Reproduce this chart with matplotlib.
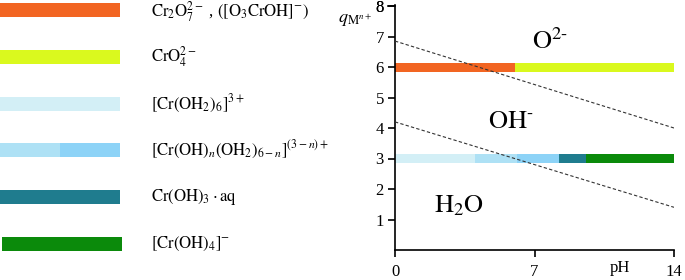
import matplotlib
matplotlib.use("Agg")
import matplotlib.pyplot as plt
from matplotlib.lines import Line2D
from matplotlib.patches import Rectangle

plt.rcParams['font.family'] = ['Liberation Serif', 'DejaVu Serif']
plt.rcParams['mathtext.fontset'] = 'stix'

# ---- data ----
legend_labels = [
    r"$\mathrm{Cr_2O_7^{2-}}$ , $\left(\left[\mathrm{O_3CrOH}\right]^{-}\right)$",
    r"$\mathrm{CrO_4^{2-}}$",
    r"$\left[\mathrm{Cr}\left(\mathrm{OH_2}\right)_6\right]^{3+}$",
    r"$\left[\mathrm{Cr}\left(\mathrm{OH}\right)_n\left(\mathrm{OH_2}\right)_{6-n}\right]^{(3-n)+}$",
    r"$\mathrm{Cr}\left(\mathrm{OH}\right)_3\cdot\mathrm{aq}$",
    r"$\left[\mathrm{Cr}\left(\mathrm{OH}\right)_4\right]^{-}$",
]
legend_colors = [["#F26522"], ["#DAF91E"], ["#D3EFF6"], ["#AEE1F5", "#8DD3F7"], ["#1F7C8E"], ["#0B8A0B"]]

# segments on the pH axis
seg_charge = [6, 6, 3, 3, 3, 3, 3]
seg_start = [0.0, 6.0, 0.0, 4.0, 6.1, 8.25, 9.6]
seg_end = [6.0, 14.0, 4.0, 6.1, 8.25, 9.6, 14.0]
seg_color = ["#F26522", "#DAF91E", "#D3EFF6", "#AEE1F5", "#8DD3F7", "#1F7C8E", "#0B8A0B"]

# boundary lines (pH, q)
upper_ph = [0, 14]
upper_q = [6.85, 4.0]
lower_ph = [0, 14]
lower_q = [4.2, 1.4]

region_labels = [r"$\mathrm{O^{2\text{-}}}$", r"$\mathrm{OH^{\text{-}}}$", r"$\mathrm{H_2O}$"]
region_ph = [7.8, 5.8, 3.2]
region_q = [6.85, 4.2, 1.45]

xticks = [0, 7, 14]
yticks = [1, 2, 3, 4, 5, 6, 7, 8]

W, H = 685, 280
fig = plt.figure(figsize=(W / 100, H / 100), dpi=100)

# ---- legend panel ----
axl = fig.add_axes([0, 0, 1, 1])
axl.set_xlim(0, W)
axl.set_ylim(H, 0)
axl.axis('off')
axl.set_zorder(0)

# ---- main chart axes ----
ytop = 8.02
ax_left, ax_bottom, ax_w = 395 / W, 30 / H, 279 / W
ax_h = 244 / 8 * ytop / H
ax = fig.add_axes([ax_left, ax_bottom, ax_w, ax_h])
ax.set_zorder(1)
ax.patch.set_alpha(0)
ax.set_xlim(0, 14)
ax.set_ylim(0, ytop)
ax.set_xticks(xticks)
ax.set_yticks(yticks)
ax.set_xticklabels([str(t) for t in xticks])
ax.set_yticklabels([str(t) for t in yticks])
for sp in ['top', 'right']:
    ax.spines[sp].set_visible(False)
for sp in ['left', 'bottom']:
    ax.spines[sp].set_linewidth(1.2)
ax.tick_params(axis='both', direction='out', length=5, width=1.2, labelsize=12, pad=3)
ax.tick_params(axis='x', pad=5)

row0, drow, bh = 10, 46.8, 14
for i, (lab, cols) in enumerate(zip(legend_labels, legend_colors)):
    yc = row0 + drow * i
    x0 = 2 if i == 5 else 0
    x1 = 122 if i == 5 else 120
    if len(cols) == 1:
        axl.add_patch(Rectangle((x0, yc - bh / 2), x1 - x0, bh, color=cols[0], lw=0))
    else:
        split = 60
        axl.add_patch(Rectangle((x0, yc - bh / 2), split - x0, bh, color=cols[0], lw=0))
        axl.add_patch(Rectangle((split, yc - bh / 2), x1 - split, bh, color=cols[1], lw=0))
    axl.text(151, yc + (2 if i == 0 else 0), lab, fontsize=12, va='center', ha='left')

for c, s, e, col in zip(seg_charge, seg_start, seg_end, seg_color):
    ax.add_patch(Rectangle((s, c - 0.16), e - s, 0.3, color=col, lw=0, zorder=2))
ax.plot(upper_ph, upper_q, ls=(0, (3, 2)), color='#333333', lw=0.8, zorder=3, scalex=False, scaley=False)
ax.plot(lower_ph, lower_q, ls=(0, (3, 2)), color='#333333', lw=0.8, zorder=3, scalex=False, scaley=False)
for lab, px, qy in zip(region_labels, region_ph, region_q):
    ax.text(px, qy, lab, fontsize=19, ha='center', va='center')

ax.text(11.3, -10 / 30.5, 'pH', fontsize=12, ha='center', va='top', clip_on=False)
fig.text(355 / W, 1 - 20 / H, r"$q_{\mathrm{M}^{n+}}$", fontsize=13, ha='center', va='center')

# figure-level fallback for the top y tick and its label
top_tick = yticks[-1]
y_fig = ax_bottom + ax_h * top_tick / ytop
tick_len = 5 / 72 * 100 / W
fig.add_artist(Line2D([ax_left - tick_len, ax_left], [y_fig, y_fig], lw=1.2, color='black', zorder=10))
fig.text(ax_left - (8 / 72 * 100) / W, y_fig, str(top_tick), fontsize=12,
         ha='right', va='center_baseline', zorder=10)

fig.savefig('out.png', dpi=100)
